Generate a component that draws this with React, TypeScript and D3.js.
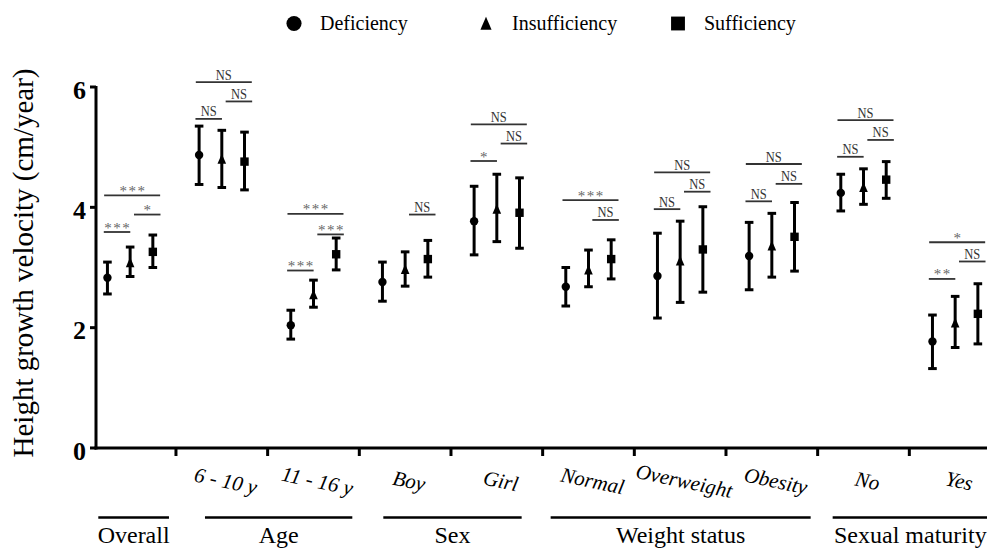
import React from 'react';
import * as d3 from 'd3';

const categories = ['Overall', '6 - 10 y', '11 - 16 y', 'Boy', 'Girl', 'Normal', 'Overweight', 'Obesity', 'No', 'Yes'];
const tickLabels = ['', '6 - 10 y', '11 - 16 y', 'Boy', 'Girl', 'Normal', 'Overweight', 'Obesity', 'No', 'Yes'];
const seriesNames = ['Deficiency', 'Insufficiency', 'Sufficiency'];

const defMean = [2.83, 4.87, 2.04, 2.76, 3.77, 2.68, 2.86, 3.19, 4.24, 1.77];
const defLow = [2.56, 4.38, 1.81, 2.44, 3.21, 2.36, 2.16, 2.63, 3.94, 1.32];
const defHigh = [3.09, 5.35, 2.29, 3.09, 4.35, 3.0, 3.57, 3.75, 4.55, 2.21];

const insMean = [3.07, 4.79, 2.54, 2.96, 3.96, 2.95, 3.1, 3.35, 4.32, 2.07];
const insLow = [2.85, 4.33, 2.34, 2.69, 3.43, 2.68, 2.42, 2.84, 4.05, 1.67];
const insHigh = [3.34, 5.28, 2.79, 3.26, 4.55, 3.29, 3.77, 3.9, 4.64, 2.52];

const sufMean = [3.26, 4.76, 3.22, 3.14, 3.91, 3.14, 3.3, 3.51, 4.46, 2.23];
const sufLow = [3.0, 4.29, 2.96, 2.84, 3.32, 2.81, 2.59, 2.94, 4.15, 1.73];
const sufHigh = [3.54, 5.25, 3.49, 3.45, 4.49, 3.46, 4.01, 4.08, 4.76, 2.73];

const yTicks = [0, 2, 4, 6];

// significance annotations: category, pair (DI = Deficiency-Insufficiency, IS, DS), level (cm/year), label
const sigCategory = ['Overall', 'Overall', 'Overall', '6 - 10 y', '6 - 10 y', '6 - 10 y', '11 - 16 y', '11 - 16 y', '11 - 16 y', 'Boy', 'Girl', 'Girl', 'Girl', 'Normal', 'Normal', 'Overweight', 'Overweight', 'Overweight', 'Obesity', 'Obesity', 'Obesity', 'No', 'No', 'No', 'Yes', 'Yes', 'Yes'];
const sigPair = ['DI', 'IS', 'DS', 'DI', 'IS', 'DS', 'DI', 'IS', 'DS', 'IS', 'DI', 'IS', 'DS', 'IS', 'DS', 'DI', 'IS', 'DS', 'DI', 'IS', 'DS', 'DI', 'IS', 'DS', 'DI', 'IS', 'DS'];
const sigLevel = [3.59, 3.88, 4.2, 5.47, 5.76, 6.08, 2.95, 3.55, 3.89, 3.88, 4.77, 5.06, 5.38, 3.79, 4.12, 3.97, 4.26, 4.58, 4.1, 4.39, 4.72, 4.84, 5.12, 5.45, 2.81, 3.1, 3.42];
const sigLabel = ['***', '*', '***', 'NS', 'NS', 'NS', '***', '***', '***', 'NS', '*', 'NS', 'NS', 'NS', '***', 'NS', 'NS', 'NS', 'NS', 'NS', 'NS', 'NS', 'NS', 'NS', '**', 'NS', '*'];

const groupNames = ['Overall', 'Age', 'Sex', 'Weight status', 'Sexual maturity'];
const groupFirst = ['Overall', '6 - 10 y', 'Boy', 'Normal', 'No'];
const groupLast = ['Overall', '11 - 16 y', 'Girl', 'Obesity', 'Yes'];

// layout (pixels)
const W = 987;
const H = 550;
const groupInsets = [[14, 7], [29, 7], [24, 21], [8, 7], [15, 13]];
const FONT = "'Liberation Serif', 'DejaVu Serif', 'Times New Roman', serif";

const x = d3.scaleBand<string>().domain(categories).range([84.3, 1001]).padding(0);
const y = d3.scaleLinear().domain([0, 6]).range([448, 87]);
const seriesOffset = d3.scaleOrdinal<string, number>().domain(seriesNames).range([-22.7, 0, 22.7]);

const center = (c: string) => (x(c) as number) + x.bandwidth() / 2;

function Marker({ kind, cx, cy, s }: { kind: number; cx: number; cy: number; s: number }) {
  if (kind === 0) return <circle cx={cx} cy={cy} r={4.2 * s} fill="#000" />;
  if (kind === 1)
    return (
      <path
        d={`M${cx},${cy - 6 * s} L${cx + 4.3 * s},${cy + 4 * s} L${cx - 4.3 * s},${cy + 4 * s} Z`}
        fill="#000"
      />
    );
  return <rect x={cx - 4.2 * s} y={cy - 4.2 * s} width={8.4 * s} height={8.4 * s} fill="#000" />;
}

export default function App() {
  const seriesData = [
    { mean: defMean, low: defLow, high: defHigh },
    { mean: insMean, low: insLow, high: insHigh },
    { mean: sufMean, low: sufLow, high: sufHigh },
  ];

  const xAxisStart = 96;
  const boundaries = categories.slice(1).map((c) => x(c) as number);

  return (
    <svg
      width={W}
      height={H}
      style={{ position: 'absolute', left: 0, top: 0, background: '#fff', fontFamily: FONT }}
    >
      <rect x={0} y={0} width={W} height={H} fill="#fff" />

      {/* legend */}
      {seriesNames.map((s, i) => {
        const lx = [294, 486, 678][i];
        return (
          <g key={s}>
            <Marker kind={i} cx={lx} cy={i === 1 ? 24.5 : 23.5} s={i === 0 ? 1.8 : i === 1 ? 1.3 : 1.65} />
            <text x={lx + 26} y={30} fontSize={20} fill="#000" style={{ fontFamily: FONT }}>
              {s}
            </text>
          </g>
        );
      })}

      {/* y axis */}
      <line x1={xAxisStart} x2={xAxisStart} y1={y(6) - 1} y2={y(0) + 1.5} stroke="#000" strokeWidth={3} />
      {yTicks.map((t) => (
        <g key={t}>
          <line x1={xAxisStart - 6} x2={xAxisStart} y1={y(t)} y2={y(t)} stroke="#000" strokeWidth={3} />
          <text
            x={86}
            y={y(t) + 3}
            textAnchor="end"
            dominantBaseline="central"
            fontSize={26}
            fontWeight="bold"
            style={{ fontFamily: FONT }}
          >
            {t}
          </text>
        </g>
      ))}
      <text
        transform={`translate(33,263) rotate(-90)`}
        textAnchor="middle"
        fontSize={29}
        fill="#000"
        style={{ fontFamily: FONT }}
      >
        Height growth velocity (cm/year)
      </text>

      {/* x axis */}
      <line x1={xAxisStart - 1.5} x2={W} y1={y(0)} y2={y(0)} stroke="#000" strokeWidth={3} />
      {boundaries.map((b, i) => (
        <line key={i} x1={b} x2={b} y1={y(0)} y2={y(0) + 8} stroke="#000" strokeWidth={3} />
      ))}
      {categories.map((c, i) => (
        <text
          key={c}
          transform={`translate(${center(c) + 4},481) rotate(12)`}
          textAnchor="middle"
          dominantBaseline="central"
          fontSize={21}
          fontStyle="italic"
          style={{ fontFamily: FONT }}
        >
          {tickLabels[i]}
        </text>
      ))}

      {/* group labels */}
      {groupNames.map((g, i) => {
        const x1 = (x(groupFirst[i]) as number) + groupInsets[i][0];
        const x2 = (x(groupLast[i]) as number) + x.bandwidth() - groupInsets[i][1];
        return (
          <g key={g}>
            <line x1={x1} x2={x2} y1={517.5} y2={517.5} stroke="#000" strokeWidth={2.5} />
            <text x={(x1 + x2) / 2} y={543} textAnchor="middle" fontSize={24} style={{ fontFamily: FONT }}>
              {g}
            </text>
          </g>
        );
      })}

      {/* error bars and markers */}
      {seriesNames.map((s, si) =>
        categories.map((c, ci) => {
          const cx = center(c) + seriesOffset(s);
          const d = seriesData[si];
          const yt = y(d.high[ci]);
          const yb = y(d.low[ci]);
          return (
            <g key={s + c}>
              <line x1={cx} x2={cx} y1={yt} y2={yb} stroke="#000" strokeWidth={3} />
              <line x1={cx - 4.3} x2={cx + 4.3} y1={yt} y2={yt} stroke="#000" strokeWidth={3} />
              <line x1={cx - 4.3} x2={cx + 4.3} y1={yb} y2={yb} stroke="#000" strokeWidth={3} />
              <Marker kind={si} cx={cx} cy={y(d.mean[ci])} s={1} />
            </g>
          );
        })
      )}

      {/* significance */}
      {sigCategory.map((c, i) => {
        const cc = center(c);
        const pair = sigPair[i];
        let x1: number;
        let x2: number;
        if (pair === 'DI') {
          const m = cc + (seriesOffset('Deficiency') + seriesOffset('Insufficiency')) / 2;
          x1 = m - 15;
          x2 = m + 11.5;
        } else if (pair === 'IS') {
          const m = cc + (seriesOffset('Insufficiency') + seriesOffset('Sufficiency')) / 2;
          x1 = m - 7.5;
          x2 = m + 19;
        } else {
          x1 = cc - 26;
          x2 = cc + 30;
        }
        const ly = y(sigLevel[i]);
        const lab = sigLabel[i];
        const isNS = lab === 'NS';
        const mid = (x1 + x2) / 2;
        return (
          <g key={i}>
            <line x1={x1} x2={x2} y1={ly} y2={ly} stroke="#333" strokeWidth={1.8} />
            {isNS ? (
              <text
                x={mid}
                y={ly - 2.5}
                textAnchor="middle"
                fontSize={14}
                fill="#333"
                textLength={16}
                lengthAdjust="spacingAndGlyphs"
                style={{ fontFamily: FONT }}
              >
                NS
              </text>
            ) : (
              <text
                x={mid + 0.8}
                y={ly + 0.5}
                textAnchor="middle"
                fontSize={15}
                fill="#666"
                letterSpacing={1.5}
                style={{ fontFamily: FONT }}
              >
                {lab}
              </text>
            )}
          </g>
        );
      })}
    </svg>
  );
}
